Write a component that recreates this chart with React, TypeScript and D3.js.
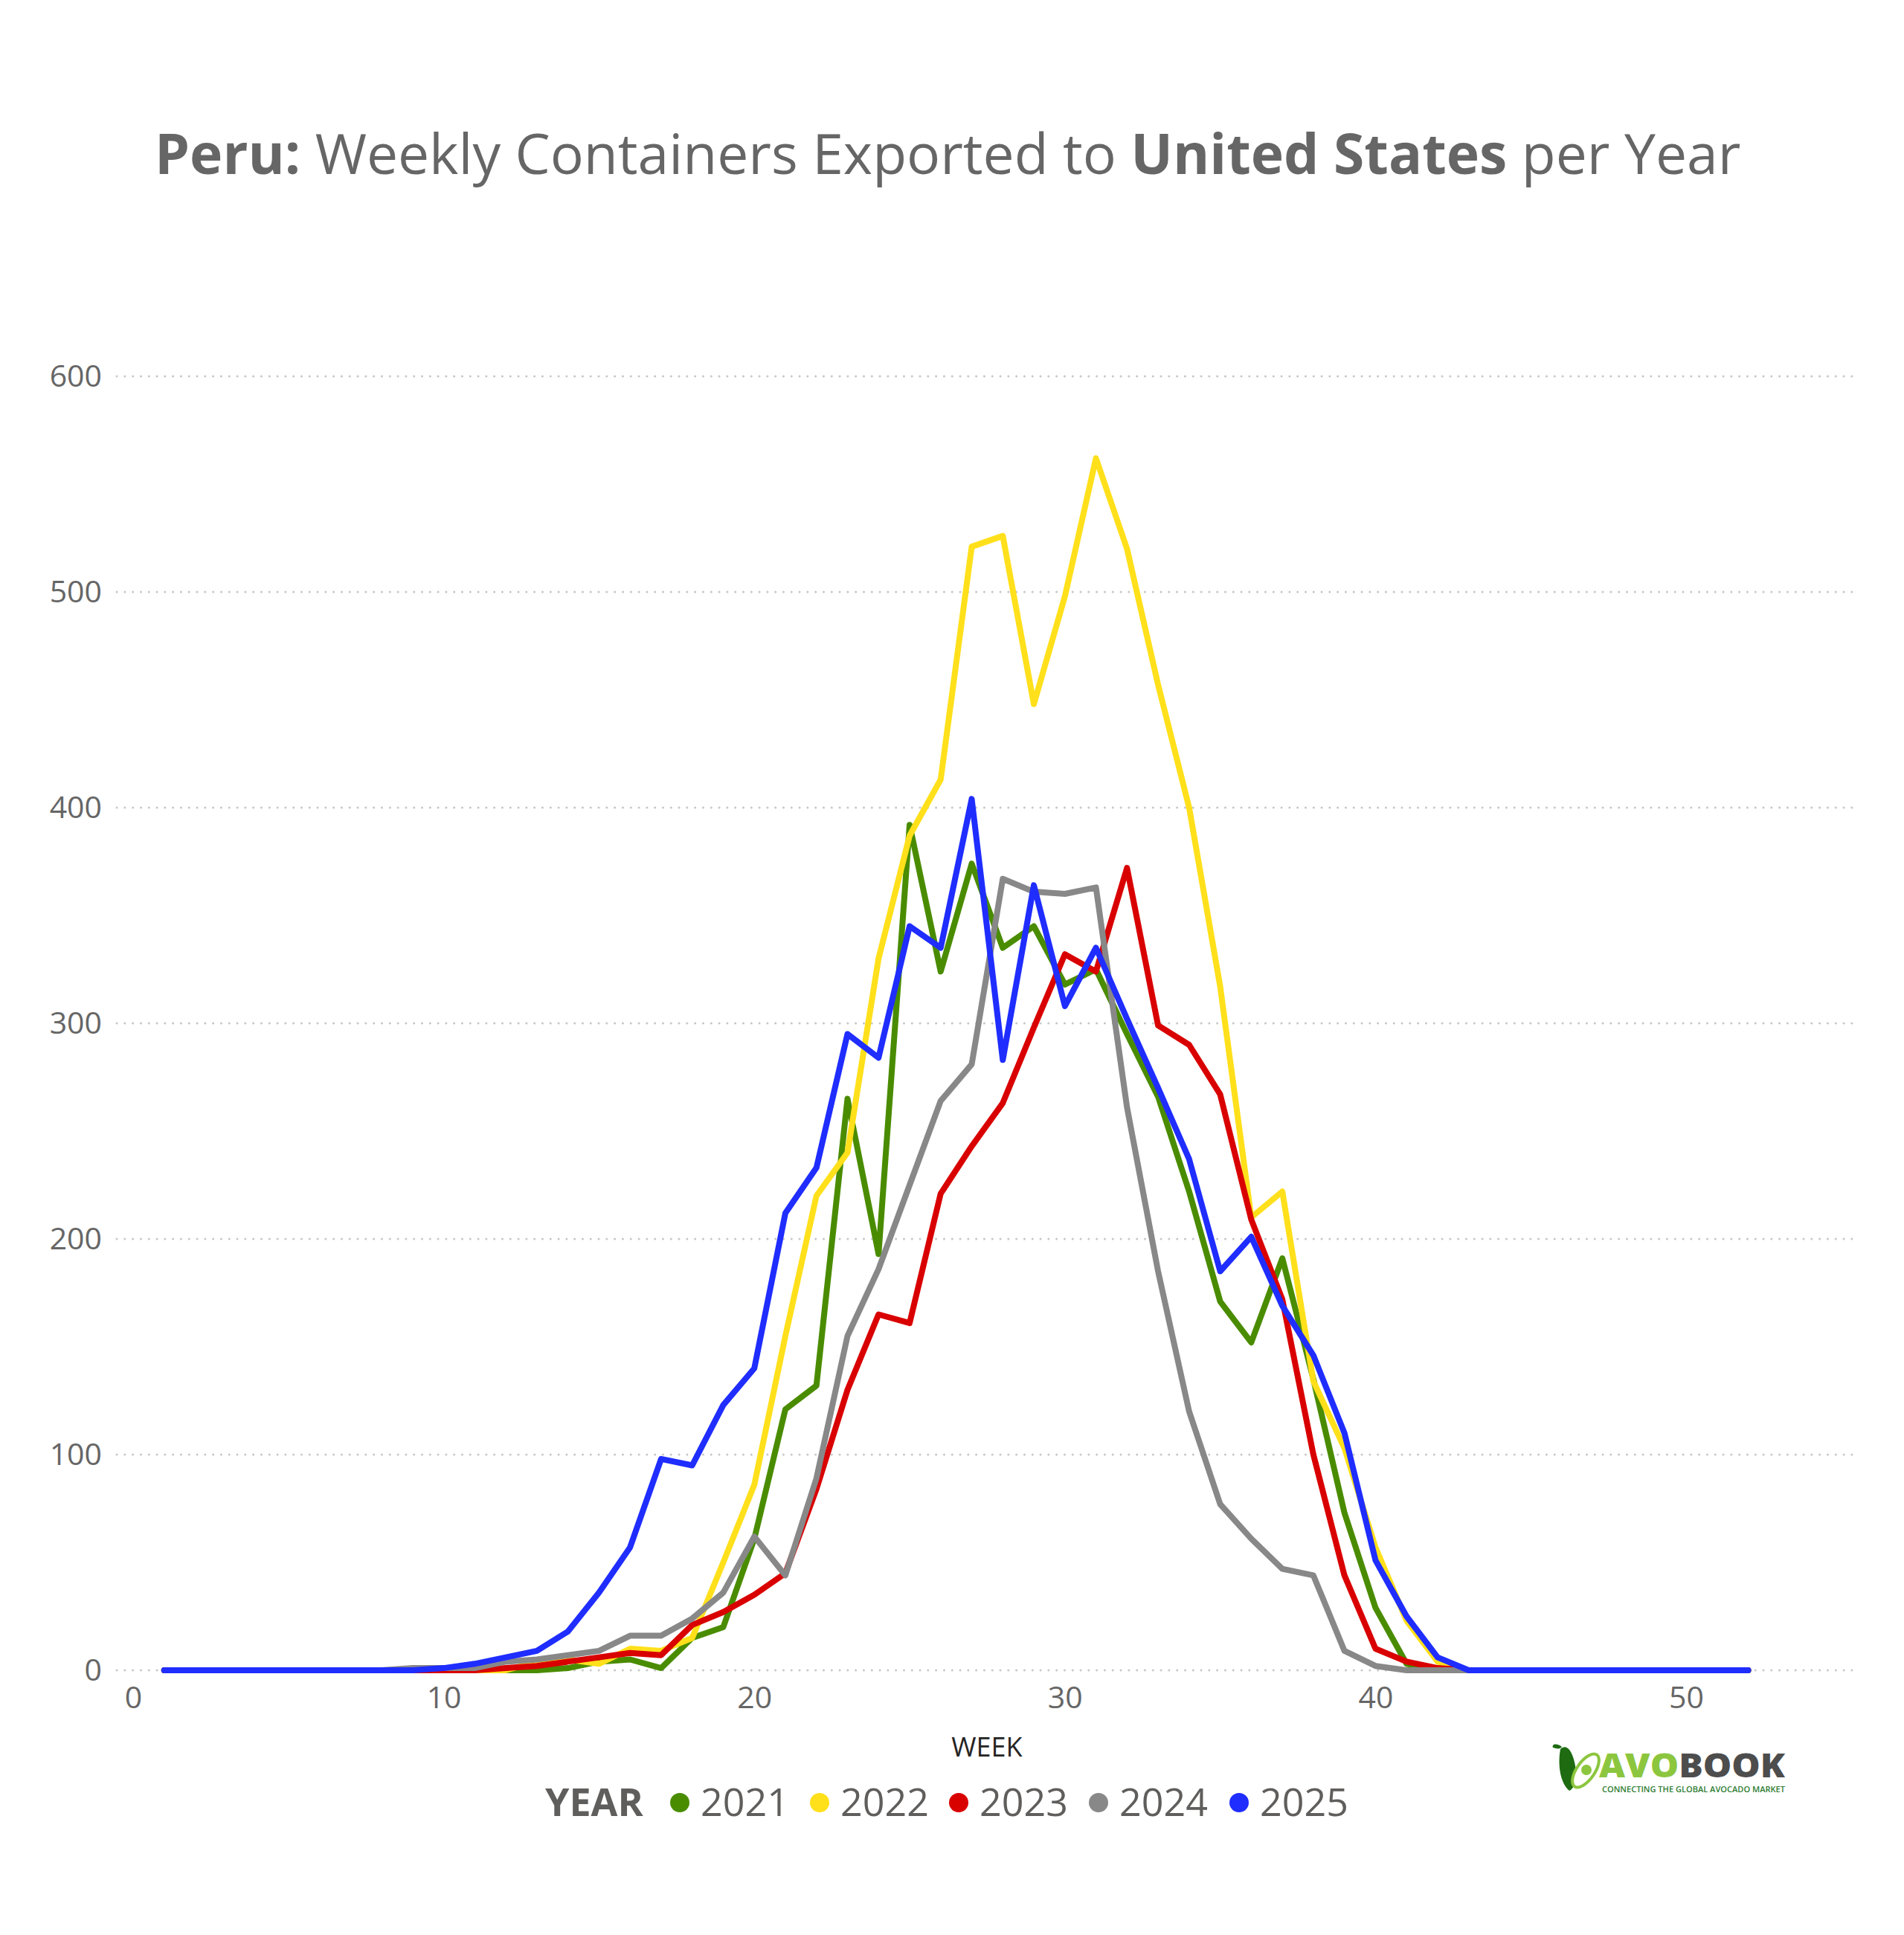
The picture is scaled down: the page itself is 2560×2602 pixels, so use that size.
import React, { useEffect, useRef } from 'react';
import * as d3 from 'd3';

const weeks = d3.range(1, 53);

const years = ['2021', '2022', '2023', '2024', '2025'];

const colors = ['#4A8C00', '#FFE01B', '#D90000', '#888888', '#1F2DFF'];

// weekly containers, weeks 1..52
const y2021 = [
  0, 0, 0, 0, 0, 0, 0, 0, 0, 0, 0, 0, 0, 1, 4, 5, 1, 15, 20, 61,
  121, 132, 265, 193, 392, 324, 374, 335, 345, 318, 325, 295, 266, 222, 171, 152, 191, 135, 73, 29,
  3, 0, 0, 0, 0, 0, 0, 0, 0, 0, 0, 0,
];
const y2022 = [
  0, 0, 0, 0, 0, 0, 0, 0, 0, 0, 0, 0, 4, 5, 3, 10, 9, 15, 50, 86,
  155, 220, 240, 330, 387, 413, 521, 526, 448, 498, 562, 520, 457, 400, 317, 210, 222, 134, 103, 57,
  23, 4, 0, 0, 0, 0, 0, 0, 0, 0, 0, 0,
];
const y2023 = [
  0, 0, 0, 0, 0, 0, 0, 0, 0, 0, 0, 1, 2, 4, 6, 8, 7, 21, 27, 35,
  45, 84, 130, 165, 161, 221, 243, 263, 298, 332, 324, 372, 299, 290, 267, 209, 172, 100, 44, 10,
  4, 1, 0, 0, 0, 0, 0, 0, 0, 0, 0, 0,
];
const y2024 = [
  0, 0, 0, 0, 0, 0, 0, 0, 1, 1, 1, 4, 5, 7, 9, 16, 16, 24, 36, 62,
  44, 89, 155, 186, 225, 264, 281, 367, 361, 360, 363, 261, 185, 120, 77, 61, 47, 44, 9, 2,
  0, 0, 0, 0, 0, 0, 0, 0, 0, 0, 0, 0,
];
const y2025 = [
  0, 0, 0, 0, 0, 0, 0, 0, 0, 1, 3, 6, 9, 18, 36, 57, 98, 95, 123, 140,
  212, 233, 295, 284, 345, 335, 404, 283, 364, 308, 335, 302, 270, 237, 185, 201, 169, 146, 110, 51,
  25, 6, 0, 0, 0, 0, 0, 0, 0, 0, 0, 0,
];

const seriesValues = [y2021, y2022, y2023, y2024, y2025];

const yTicks = [0, 100, 200, 300, 400, 500, 600];
const xTicks = [0, 10, 20, 30, 40, 50];

const FONT = "'Open Sans', 'Noto Sans', sans-serif";

export default function App() {
  const svgRef = useRef<SVGSVGElement>(null);

  useEffect(() => {
    document.body.style.margin = '0';
    if (!svgRef.current) return;

    const svg = d3.select(svgRef.current);
    svg.selectAll('*').remove();

    const x = d3.scaleLinear().domain([0, 50]).range([179, 2267]);
    const y = d3.scaleLinear().domain([0, 600]).range([2246, 506]);

    const gridLeft = 157;
    const gridRight = 2500;

    // title
    const title = svg.append('text')
      .attr('x', 208)
      .attr('y', 234)
      .attr('fill', '#666666')
      .attr('font-family', FONT)
      .attr('font-size', 75);
    title.append('tspan').attr('font-weight', 700).text('Peru:');
    title.append('tspan').text(' Weekly Containers Exported to ');
    title.append('tspan').attr('font-weight', 700).text('United States');
    title.append('tspan').text(' per Year');

    // dotted gridlines
    svg.append('g')
      .selectAll('line')
      .data(yTicks)
      .enter().append('line')
      .attr('x1', gridLeft)
      .attr('x2', gridRight)
      .attr('y1', d => y(d))
      .attr('y2', d => y(d))
      .attr('stroke', '#c8c8c8')
      .attr('stroke-width', 3)
      .attr('stroke-linecap', 'round')
      .attr('stroke-dasharray', '0.1,10.7');

    // y axis labels
    const yAxis = svg.append('g')
      .attr('transform', `translate(${gridLeft - 20},0)`)
      .call(d3.axisLeft(y).tickValues(yTicks).tickSize(0).tickPadding(0));
    yAxis.select('.domain').remove();
    yAxis.selectAll('text')
      .attr('fill', '#666666')
      .attr('font-family', FONT)
      .attr('font-size', 41);

    // x axis labels
    const xAxis = svg.append('g')
      .attr('transform', `translate(0,${y(0) + 22})`)
      .call(d3.axisBottom(x).tickValues(xTicks).tickSize(0).tickPadding(0));
    xAxis.select('.domain').remove();
    xAxis.selectAll('text')
      .attr('fill', '#666666')
      .attr('font-family', FONT)
      .attr('font-size', 41);

    svg.append('text')
      .attr('x', 1327)
      .attr('y', 2362)
      .attr('text-anchor', 'middle')
      .attr('fill', '#252423')
      .attr('font-family', FONT)
      .attr('font-size', 36)
      .text('WEEK');

    // lines
    const line = d3.line<number>()
      .x((_, i) => x(weeks[i]))
      .y(d => y(d));

    svg.append('g')
      .selectAll('path')
      .data(seriesValues)
      .enter().append('path')
      .attr('fill', 'none')
      .attr('stroke', (_, i) => colors[i])
      .attr('stroke-width', 8)
      .attr('stroke-linejoin', 'round')
      .attr('stroke-linecap', 'round')
      .attr('d', d => line(d));

    // legend
    const legend = svg.append('g').attr('font-family', FONT);
    legend.append('text')
      .attr('x', 733)
      .attr('y', 2442)
      .attr('fill', '#605E5C')
      .attr('font-weight', 700)
      .attr('font-size', 52)
      .text('YEAR');

    const dotX = [914, 1102, 1289, 1477, 1666];
    const items = legend.selectAll('g.item')
      .data(years)
      .enter().append('g')
      .attr('class', 'item');
    items.append('circle')
      .attr('cx', (_, i) => dotX[i])
      .attr('cy', 2424)
      .attr('r', 13)
      .attr('fill', (_, i) => colors[i]);
    items.append('text')
      .attr('x', (_, i) => dotX[i] + 28)
      .attr('y', 2442)
      .attr('fill', '#605E5C')
      .attr('font-size', 52)
      .text(d => d);

    // logo
    const logo = svg.append('g');
    logo.append('path')
      .attr('d', 'M2098,2352 C2094,2374 2098,2398 2110,2408 C2120,2404 2122,2380 2114,2360 C2110,2350 2104,2346 2098,2352 Z')
      .attr('fill', '#1E6B12');
    logo.append('path')
      .attr('d', 'M2100,2349 C2092,2343 2086,2346 2088,2350 C2094,2352 2098,2352 2100,2349 Z')
      .attr('fill', '#1E6B12');
    logo.append('ellipse')
      .attr('cx', 2132)
      .attr('cy', 2381)
      .attr('rx', 12)
      .attr('ry', 26)
      .attr('transform', 'rotate(35,2132,2381)')
      .attr('fill', '#ffffff')
      .attr('stroke', '#8CC63F')
      .attr('stroke-width', 4);
    logo.append('circle')
      .attr('cx', 2133)
      .attr('cy', 2380)
      .attr('r', 7)
      .attr('fill', '#8CC63F');
    const logoText = logo.append('text')
      .attr('x', 2150)
      .attr('y', 2390)
      .attr('font-family', FONT)
      .attr('font-weight', 800)
      .attr('font-size', 44)
      .attr('textLength', 250)
      .attr('lengthAdjust', 'spacingAndGlyphs');
    logoText.append('tspan').attr('fill', '#8CC63F').text('AVO');
    logoText.append('tspan').attr('fill', '#4D4D4D').text('BOOK');
    logo.append('text')
      .attr('x', 2154)
      .attr('y', 2410)
      .attr('font-family', FONT)
      .attr('font-weight', 600)
      .attr('font-size', 11)
      .attr('fill', '#2E7D32')
      .attr('textLength', 246)
      .attr('lengthAdjust', 'spacingAndGlyphs')
      .text('CONNECTING THE GLOBAL AVOCADO MARKET');
  }, []);

  return (
    <svg
      ref={svgRef}
      width={2560}
      height={2602}
      viewBox="0 0 2560 2602"
      style={{ display: 'block', background: '#ffffff' }}
    />
  );
}
